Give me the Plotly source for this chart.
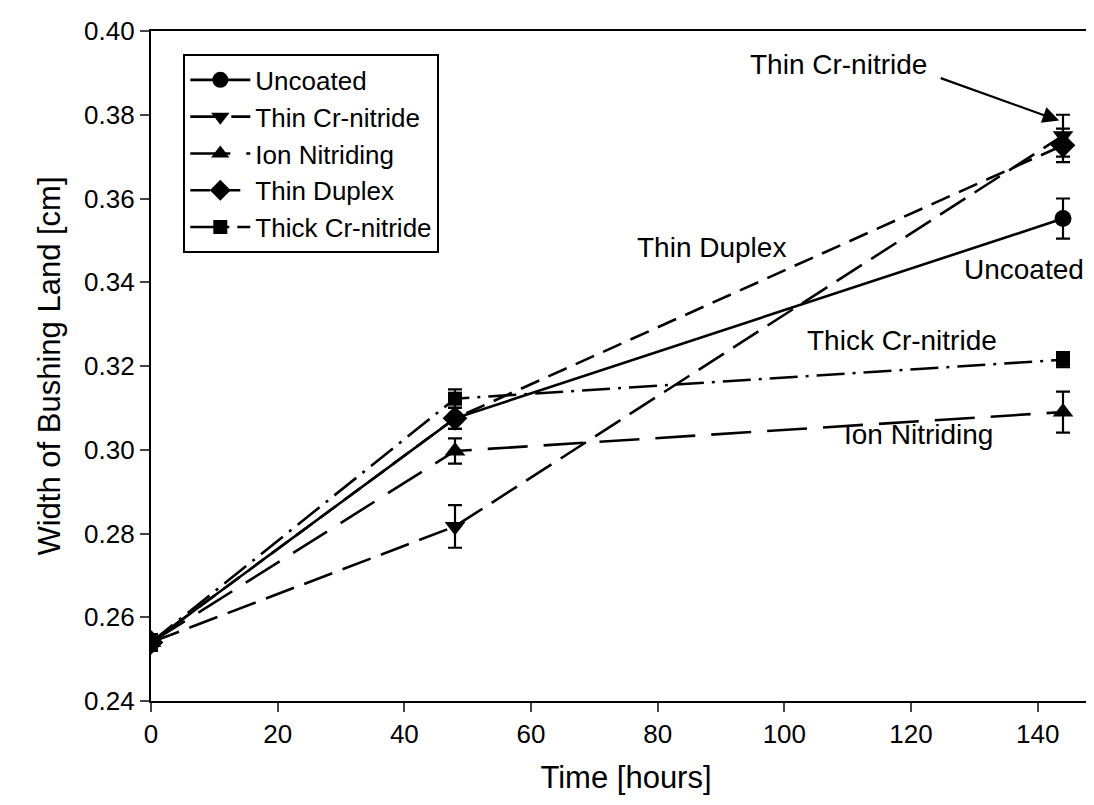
import plotly.graph_objects as go

# ---- data ----
time_h = [0, 48, 144]
series_names = ["Uncoated", "Thin Cr-nitride", "Ion Nitriding", "Thin Duplex", "Thick Cr-nitride"]
uncoated = [0.254, 0.3075, 0.3552]
uncoated_err = [0.002, 0.0025, 0.0048]
thin_cr = [0.254, 0.2817, 0.3750]
thin_cr_err = [0.002, 0.0051, 0.0050]
ion_nitriding = [0.254, 0.2997, 0.3090]
ion_nitriding_err = [0.002, 0.0030, 0.0049]
thin_duplex = [0.254, 0.3075, 0.3727]
thin_duplex_err = [0.002, 0.0025, 0.0040]
thick_cr = [0.254, 0.3122, 0.3215]
thick_cr_err = [0.002, 0.0022, 0.0018]

x_ticks = [0, 20, 40, 60, 80, 100, 120, 140]
y_ticks = [0.24, 0.26, 0.28, 0.30, 0.32, 0.34, 0.36, 0.38, 0.40]

FONT = "Liberation Sans"
styles = [
    ("circle", "solid", 17),
    ("triangle-down", "30px,11px", 18),
    ("triangle-up", "40px,16px", 18),
    ("diamond", "20px,10px", 19),
    ("square", "28px,8px,3px,8px", 14),
]
values = [uncoated, thin_cr, ion_nitriding, thin_duplex, thick_cr]
errors = [uncoated_err, thin_cr_err, ion_nitriding_err, thin_duplex_err, thick_cr_err]

fig = go.Figure()
for name, vals, errs, (sym, dash, msize) in zip(series_names, values, errors, styles):
    fig.add_trace(go.Scatter(
        x=time_h, y=vals, name=name, mode="lines+markers",
        line=dict(color="black", width=2.6, dash=dash),
        marker=dict(symbol=sym, size=msize, color="black"),
        error_y=dict(type="data", array=errs, visible=True, color="black",
                     thickness=2.2, width=7),
    ))

ann_font = dict(family=FONT, size=28, color="black")
fig.add_annotation(x=108.5, y=0.392, text="Thin Cr-nitride", showarrow=False, font=ann_font)
fig.add_annotation(x=143.4, y=0.3786, ax=-120, ay=-43, text="",
                   showarrow=True, arrowhead=2, arrowsize=1.5, arrowwidth=2.2,
                   arrowcolor="black")
fig.add_annotation(x=88.5, y=0.3482, text="Thin Duplex", showarrow=False, font=ann_font)
fig.add_annotation(x=137.8, y=0.343, text="Uncoated", showarrow=False, font=ann_font)
fig.add_annotation(x=118.5, y=0.326, text="Thick Cr-nitride", showarrow=False, font=ann_font)
fig.add_annotation(x=121.2, y=0.3036, text="Ion Nitriding", showarrow=False, font=ann_font)

fig.update_layout(
    width=1094, height=805,
    margin=dict(l=143, r=1, t=23, b=112),
    paper_bgcolor="white", plot_bgcolor="white",
    font=dict(family=FONT, size=26, color="black"),
    showlegend=True,
    legend=dict(x=0.034, y=0.965, xanchor="left", yanchor="top",
                bordercolor="black", borderwidth=2, bgcolor="white",
                font=dict(family=FONT, size=26, color="black"),
                tracegroupgap=0, itemsizing="trace", itemwidth=60),
    xaxis=dict(range=[0, 150], tickvals=x_ticks, ticks="outside", ticklen=9,
               tickwidth=2, showline=True, linewidth=2.4, linecolor="black",
               mirror=True, showgrid=False, zeroline=False,
               title=dict(text="Time [hours]", font=dict(size=31), standoff=18)),
    yaxis=dict(range=[0.24, 0.40], tickvals=y_ticks, tickformat=".2f",
               ticks="outside", ticklen=9, tickwidth=2, showline=True,
               linewidth=2.4, linecolor="black", showgrid=False, zeroline=False,
               title=dict(text="Width of Bushing Land [cm]", font=dict(size=31), standoff=14)),
)

fig.write_html("out.html")
